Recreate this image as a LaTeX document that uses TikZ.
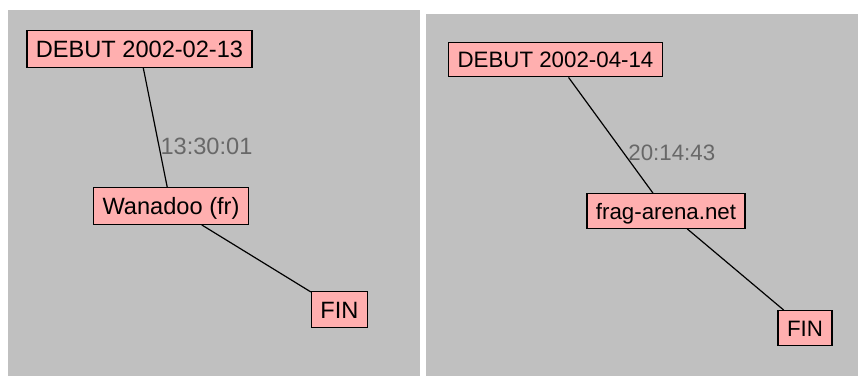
\documentclass[tikz,border=0pt]{standalone}
\usepackage{fontspec}
\setmainfont{Liberation Sans}
\definecolor{rose}{RGB}{255,175,175}
\definecolor{fond}{RGB}{192,192,192}
\definecolor{gristexte}{RGB}{104,104,104}
\tikzset{
  boite/.style={draw=black,fill=rose,line width=1.3pt,inner xsep=9pt,inner ysep=0pt,text depth=0pt},
  heure/.style={text=gristexte,anchor=west,inner sep=1pt,pos=0.655}
}

\begin{document}
\begin{tikzpicture}[x=1pt,y=-1pt]
\useasboundingbox (0,0) rectangle (859,376);
\fill[white] (0,0) rectangle (859,376);
\fill[fond] (8,10) rectangle (420,376);
\fill[fond] (426,14) rectangle (858,376);

% premier parcours
\begin{scope}[every node/.style={boite,font=\fontsize{23.6}{28}\selectfont,text height=17pt,minimum height=36.5pt}]
	\node (d1) at (139.5,49) {DEBUT 2002-02-13};
	\node (w1) at (171,206) {Wanadoo (fr)};
	\node (f1) at (339.5,309.5) {FIN};
\end{scope}

% second parcours
\begin{scope}[every node/.style={boite,font=\fontsize{22.3}{27}\selectfont,text height=16pt,minimum height=34.5pt}]
	\node (d2) at (555.5,59.5) {DEBUT 2002-04-14};
	\node (w2) at (666,211) {frag-arena.net};
	\node (f2) at (805,328) {FIN};
\end{scope}

\begin{scope}[every edge/.style={draw=black,line width=1.2pt}]
	\path (d1) edge node[heure,font=\fontsize{23.6}{28}\selectfont] {13:30:01} (w1);
	\path (w1) edge (f1);

	\path (d2) edge node[heure,xshift=3pt,font=\fontsize{22.3}{27}\selectfont] {20:14:43} (w2);
	\path (w2) edge (f2);
\end{scope}
\end{tikzpicture}
\end{document}
